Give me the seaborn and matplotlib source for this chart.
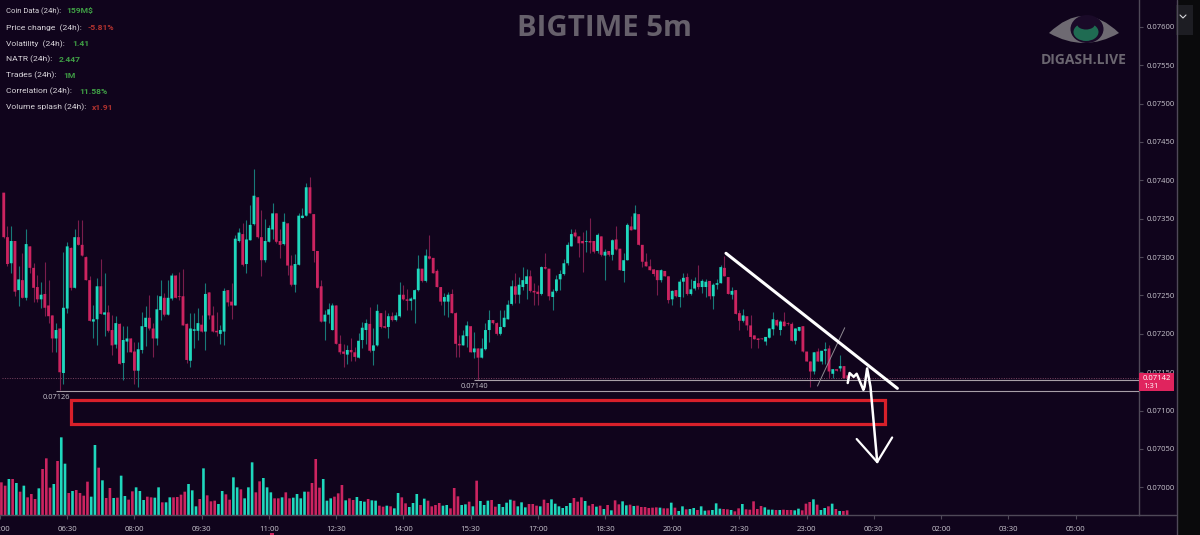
import numpy as np
import pandas as pd
import matplotlib
matplotlib.use("Agg")
import matplotlib.pyplot as plt
import seaborn as sns
from matplotlib.patches import Ellipse, PathPatch, Rectangle
from matplotlib.path import Path

# prices are in units of 0.00001
OPENS = [
    7384,7326,7292,7321,7257,7270,7247,7314,7286,7261,
    7245,7252,7237,7224,7194,7207,7149,7233,7312,7260,
    7326,7316,7300,7270,7216,7219,7262,7225,7228,7205,
    7186,7213,7162,7190,7194,7177,7152,7179,7209,7221,
    7207,7194,7231,7247,7225,7246,7276,7249,7249,7213,
    7165,7204,7204,7212,7203,7254,7224,7204,7200,7203,
    7257,7242,7237,7321,7330,7291,7322,7343,7378,7326,
    7296,7320,7336,7357,7321,7317,7344,7289,7264,7290,
    7351,7354,7391,7356,7308,7262,7216,7225,7205,7237,
    7187,7177,7173,7179,7176,7169,7192,7205,7213,7178,
    7185,7227,7210,7209,7223,7218,7223,7251,7245,7243,
    7245,7257,7285,7269,7301,7299,7282,7261,7242,7242,
    7252,7227,7187,7185,7197,7210,7176,7181,7169,7180,
    7205,7218,7214,7200,7209,7219,7239,7262,7251,7261,
    7265,7275,7256,7255,7252,7287,7285,7248,7256,7271,
    7278,7292,7314,7332,7327,7321,7320,7321,7321,7308,
    7327,7302,7308,7303,7323,7311,7282,7296,7340,7336,
    7356,7316,7294,7288,7284,7283,7270,7282,7275,7245,
    7257,7248,7268,7274,7252,7259,7266,7261,7261,7269,
    7249,7264,7266,7286,7274,7251,7257,7227,7217,7223,
    7211,7198,7194,7194,7190,7195,7206,7218,7205,7216,
    7214,7213,7191,7204,7210,7177,7164,7151,7177,7164,
    7178,7181,7148,7154,7155,7158,7146,
]
CLOSES = [
    7326,7291,7321,7255,7271,7247,7317,7286,7260,7245,
    7251,7234,7223,7194,7205,7150,7234,7314,7260,7326,
    7316,7302,7270,7217,7219,7262,7226,7228,7204,7185,
    7214,7161,7192,7194,7176,7152,7180,7210,7221,7207,
    7194,7232,7249,7225,7247,7276,7247,7248,7211,7166,
    7207,7206,7214,7203,7252,7224,7203,7202,7205,7256,
    7241,7237,7324,7332,7290,7323,7342,7380,7326,7296,
    7321,7338,7357,7320,7316,7346,7289,7264,7291,7354,
    7354,7391,7357,7308,7260,7216,7225,7232,7237,7187,
    7176,7174,7179,7176,7170,7191,7208,7214,7178,7185,
    7230,7209,7208,7223,7218,7224,7251,7245,7243,7246,
    7257,7285,7269,7302,7298,7279,7261,7242,7248,7251,
    7227,7187,7185,7198,7211,7176,7181,7169,7181,7205,
    7218,7214,7200,7209,7221,7238,7262,7251,7264,7270,
    7275,7256,7254,7252,7287,7285,7249,7255,7271,7278,
    7292,7316,7330,7327,7318,7318,7321,7319,7307,7329,
    7303,7307,7303,7322,7310,7283,7296,7342,7335,7357,
    7316,7294,7288,7283,7278,7270,7283,7275,7244,7256,
    7249,7268,7273,7252,7258,7269,7261,7269,7268,7249,
    7264,7266,7287,7275,7252,7256,7226,7217,7224,7211,
    7196,7193,7192,7193,7196,7207,7219,7211,7216,7210,
    7213,7191,7207,7209,7177,7164,7151,7176,7164,7178,
    7180,7151,7154,7152,7158,7142,7142,
]
HIGHS = [
    7384,7340,7340,7321,7288,7305,7336,7314,7292,7277,
    7268,7293,7270,7224,7214,7207,7307,7320,7313,7337,
    7348,7348,7301,7275,7238,7273,7297,7279,7238,7225,
    7223,7214,7210,7210,7194,7190,7190,7228,7236,7251,
    7214,7251,7270,7253,7270,7279,7277,7280,7284,7214,
    7227,7227,7234,7225,7266,7254,7236,7229,7212,7260,
    7257,7266,7329,7338,7344,7349,7368,7415,7378,7362,
    7350,7342,7370,7357,7336,7358,7344,7303,7304,7358,
    7364,7396,7405,7356,7308,7270,7231,7240,7240,7237,
    7198,7187,7185,7194,7183,7201,7216,7220,7235,7207,
    7239,7227,7231,7227,7229,7229,7268,7264,7259,7248,
    7259,7303,7285,7311,7329,7299,7285,7261,7253,7255,
    7259,7229,7198,7205,7217,7210,7203,7181,7194,7214,
    7231,7218,7216,7231,7231,7244,7270,7279,7274,7287,
    7285,7283,7266,7264,7288,7305,7285,7259,7277,7283,
    7298,7320,7337,7337,7327,7333,7335,7351,7321,7331,
    7327,7311,7308,7324,7340,7311,7305,7344,7353,7368,
    7356,7316,7305,7298,7284,7283,7285,7282,7275,7257,
    7257,7272,7279,7279,7272,7274,7290,7272,7272,7269,
    7266,7272,7290,7301,7274,7261,7257,7231,7233,7223,
    7224,7198,7194,7194,7196,7207,7228,7220,7218,7229,
    7216,7216,7207,7209,7210,7177,7164,7176,7181,7178,
    7190,7185,7154,7154,7172,7158,7147,
]
LOWS = [
    7325,7288,7279,7249,7236,7247,7244,7279,7242,7242,
    7234,7223,7214,7177,7176,7127,7135,7227,7257,7260,
    7316,7301,7270,7217,7194,7186,7226,7197,7203,7173,
    7181,7161,7140,7177,7176,7135,7131,7175,7184,7205,
    7170,7186,7218,7223,7225,7244,7247,7244,7211,7162,
    7157,7181,7192,7203,7179,7220,7203,7197,7187,7186,
    7236,7220,7237,7320,7288,7279,7322,7342,7325,7275,
    7294,7320,7323,7319,7299,7316,7277,7262,7255,7290,
    7351,7354,7357,7294,7260,7216,7192,7214,7205,7187,
    7174,7157,7161,7164,7164,7168,7181,7187,7176,7160,
    7184,7208,7208,7194,7217,7217,7222,7244,7231,7231,
    7214,7256,7268,7267,7297,7279,7261,7237,7224,7222,
    7227,7170,7170,7185,7183,7176,7168,7140,7169,7179,
    7190,7213,7198,7198,7209,7219,7237,7240,7240,7257,
    7246,7255,7237,7237,7251,7285,7244,7231,7255,7257,
    7277,7290,7314,7326,7300,7281,7307,7305,7305,7305,
    7301,7270,7302,7296,7309,7283,7268,7296,7335,7336,
    7316,7287,7288,7283,7276,7251,7268,7275,7240,7238,
    7248,7235,7248,7251,7251,7257,7259,7253,7248,7246,
    7233,7259,7266,7275,7252,7246,7226,7205,7216,7205,
    7181,7193,7181,7193,7185,7194,7198,7210,7198,7210,
    7212,7191,7187,7204,7177,7164,7131,7148,7164,7161,
    7161,7142,7142,7152,7151,7142,7140,
]
VOLUMES = [
    98,88,108,108,96,70,88,53,63,48,
    80,138,170,82,93,162,233,154,66,72,
    75,66,58,100,55,210,142,104,51,81,
    51,52,118,57,46,71,83,72,45,55,
    53,52,83,38,38,53,53,54,61,70,
    93,74,26,48,140,59,41,43,33,72,
    62,46,113,83,77,50,83,158,68,101,
    111,83,68,50,50,53,68,50,52,63,
    50,70,70,96,168,82,108,43,50,55,
    65,90,44,50,45,54,42,40,48,44,
    43,28,25,28,26,20,66,53,35,24,
    36,63,30,49,43,
    26,30,36,28,30,20,81,56,30,32,
    40,26,103,42,30,43,45,25,33,24,
    37,46,43,26,38,23,33,33,28,26,
    46,36,47,34,26,21,27,36,51,40,
    53,42,28,33,25,28,18,30,14,44,
    32,41,29,31,27,28,24,24,21,22,
    23,22,20,20,37,22,12,26,17,18,
    21,15,26,13,14,15,35,19,18,17,
    15,11,20,33,17,16,41,18,27,23,
    16,16,15,15,16,15,15,14,19,14,
    34,39,47,31,15,21,26,34,18,12,
    12,14,
]
TIME_LABELS = ["05:00", "06:30", "08:00", "09:30", "11:00", "12:30", "14:00", "15:30", "17:00",
               "18:30", "20:00", "21:30", "23:00", "00:30", "02:00", "03:30", "05:00"]
PRICE_TICKS = [7000, 7050, 7100, 7150, 7200, 7250, 7300, 7350, 7400, 7450, 7500, 7550, 7600]

INFO_LABELS = ["Coin Data (24h):", "Price change  (24h):", "Volatility  (24h):", "NATR (24h):",
               "Trades (24h):", "Correlation (24h):", "Volume splash (24h):"]
INFO_VALUES = ["159M$", "-5.81%", "1.41", "2.447", "1M", "11.58%", "x1.91"]

# drawn on top of the chart, (candle number, price)
TREND_X, TREND_Y = [193.4, 239.3], [7305, 7129]
THIN_X, THIN_Y = [217.9, 225.2], [7132, 7208]
SCRIBBLE_X = [226.0, 226.5, 227.6, 228.4, 230.2, 230.5, 231.2, 232.1, 233.9]
SCRIBBLE_Y = [7136, 7149, 7144, 7148, 7127, 7131, 7155, 7131, 7033]
HEAD_X, HEAD_Y = [228.4, 233.9, 237.9], [7063, 7033, 7065]
BOX_X, BOX_Y = [18.1, 236.1], [7082, 7114]
LAST_PRICE = 7142
LOW_LEVELS = [(15, 7126), (127, 7140)]

BG = "#10041c"
UP = "#1fd8bd"
DOWN = "#cc2460"
AXIS = "#4f4958"
TICK_TEXT = "#c9c5ce"

sns.set_theme(style="dark", rc={"axes.grid": False})
plt.rcParams["font.family"] = ["Open Sans", "DejaVu Sans"]

W, H = 1200, 535
fig = plt.figure(figsize=(W / 100, H / 100), dpi=100, facecolor=BG)
pos = [0, (H - 515) / H, 1139 / W, 515 / H]

opens = np.array(OPENS) / 1e5
closes = np.array(CLOSES) / 1e5
highs = np.array(HIGHS) / 1e5
lows = np.array(LOWS) / 1e5
idx = np.arange(len(opens))
up = closes >= opens
xlim = (-0.374, 304.0)
ylim = (0.06964, 0.07635)

# volume panel
vol_ax = fig.add_axes(pos, zorder=1)
vol = pd.DataFrame({"i": idx, "v": VOLUMES[:len(idx)], "dir": np.where(up, "up", "down")})
sns.barplot(data=vol, x="i", y="v", hue="dir", palette={"up": UP, "down": DOWN}, native_scale=True,
            dodge=False, width=0.7, saturation=1, legend=False, linewidth=0, ax=vol_ax)
vol_ax.set_xlim(*xlim)
vol_ax.set_ylim(0, 1545)
vol_ax.set_axis_off()
for p in vol_ax.patches:
    p.set_snap(False)

# candles
ax = fig.add_axes(pos, zorder=2)
ax.patch.set_alpha(0)
colors = np.where(up, UP, DOWN)
wick_colors = np.where(up, "#187a78", "#7a1d4c")
ax.vlines(idx, lows, highs, colors=wick_colors, linewidth=0.8, zorder=2)
bodies = ax.bar(idx, np.maximum(np.abs(closes - opens), 0.00001), bottom=np.minimum(opens, closes),
                width=0.76, color=colors, linewidth=0, zorder=3)
for p in bodies:
    p.set_snap(False)

ax.set_xlim(*xlim)
ax.set_ylim(*ylim)
ax.set_xticks(np.arange(len(TIME_LABELS)) * 18 - 1)
ax.set_xticklabels(TIME_LABELS)
ax.set_yticks(np.array(PRICE_TICKS) / 1e5)
ax.set_yticklabels([f"{p / 1e5:.5f}" for p in PRICE_TICKS])
ax.yaxis.tick_right()
ax.tick_params(axis="x", colors=AXIS, labelcolor=TICK_TEXT, labelsize=5.6, length=3, width=0.8, pad=5, bottom=True)
ax.tick_params(axis="y", colors=AXIS, labelcolor=TICK_TEXT, labelsize=5.5, length=3, width=0.8, pad=2.5, right=True)
for side in ["top", "left"]:
    ax.spines[side].set_visible(False)
for side in ["right", "bottom"]:
    ax.spines[side].set_color(AXIS)
    ax.spines[side].set_linewidth(1)

# levels
ax.hlines(LAST_PRICE / 1e5, xlim[0], xlim[1], colors="#7a4460", linewidth=0.7, linestyles=(0, (1, 1.5)), zorder=1)
for i0, level in LOW_LEVELS:
    ax.hlines(level / 1e5, i0 - 1, xlim[1], colors="#a89fa8", linewidth=0.8, zorder=4)
    ax.text(i0 - 1, (level - 9) / 1e5, f"{level / 1e5:.5f}", color=TICK_TEXT, fontsize=5.4, ha="center", va="center")

# hand drawn marks
ax.add_patch(Rectangle((BOX_X[0], BOX_Y[0] / 1e5), BOX_X[1] - BOX_X[0], (BOX_Y[1] - BOX_Y[0]) / 1e5,
                       fill=False, edgecolor="#d8202a", linewidth=2.3, zorder=5))
ax.plot(THIN_X, np.array(THIN_Y) / 1e5, color="#8f8a92", linewidth=0.7, zorder=6)
ax.plot(TREND_X, np.array(TREND_Y) / 1e5, color="white", linewidth=2.2, zorder=7)
ax.plot(SCRIBBLE_X, np.array(SCRIBBLE_Y) / 1e5, color="white", linewidth=1.8, zorder=7)
ax.plot(HEAD_X, np.array(HEAD_Y) / 1e5, color="white", linewidth=1.6, zorder=7)

# overlay in pixels for the chart furniture
over = fig.add_axes([0, 0, 1, 1], zorder=3)
over.set_xlim(0, W)
over.set_ylim(H, 0)
over.set_axis_off()
over.patch.set_alpha(0)

over.add_patch(Rectangle((1177, 0), 23, H, color="#0a0a0c", linewidth=0))
over.add_patch(Rectangle((1176, 5), 17, 30, color="#1d1d23", linewidth=0))
over.plot([1180, 1183, 1186], [15, 18, 15], color="#d8d8dc", linewidth=0.8)
over.plot([1176.5, 1176.5], [0, H], color=AXIS, linewidth=1)
over.plot([1139, 1176], [515, 515], color=AXIS, linewidth=1)
over.add_patch(Rectangle((270, 533), 4, 2, color=DOWN, linewidth=0))

# price tag
over.add_patch(Rectangle((1139, 373), 35, 18, color="#e0245e", linewidth=0))
over.text(1143, 378.5, f"{LAST_PRICE / 1e5:.5f}", color="white", fontsize=5.5, va="center")
over.text(1143, 386.5, "1:31", color="white", fontsize=5.5, va="center")

# title and logo
over.text(604.5, 29, "BIGTIME 5m", color="#66606b", fontsize=21.2, fontweight="bold", ha="center", va="center")
over.text(1083.5, 60, "DIGASH.LIVE", color="#6b6670", fontsize=10, fontweight="bold", ha="center", va="center")
lens = Path([(1049, 33), (1084, -1), (1119, 33), (1084, 53), (1049, 33)],
            [Path.MOVETO, Path.CURVE3, Path.CURVE3, Path.CURVE3, Path.CURVE3])
over.add_patch(PathPatch(lens, facecolor="#6e6a72", edgecolor="none"))
over.add_patch(Ellipse((1087, 29), 33, 28, color="#1a0a28", linewidth=0))
over.add_patch(Ellipse((1086, 32), 25, 18, color="#1f6b52", linewidth=0))
over.add_patch(Ellipse((1086, 24), 18, 11, color="#1a0a28", linewidth=0))

# info block
INFO_Y = [11, 28, 44, 59, 75, 91, 107]
VALUE_X = [66, 88, 72, 59, 63, 79, 92]
VALUE_COL = ["#3f9e45", "#b0322f", "#3f9e45", "#3f9e45", "#3f9e45", "#3f9e45", "#b0322f"]
LABEL_SIZE = [5.5, 6.1, 6.1, 6.1, 6.1, 6.1, 6.1]
for label, value, y, vx, col, size in zip(INFO_LABELS, INFO_VALUES, INFO_Y, VALUE_X, VALUE_COL, LABEL_SIZE):
    over.text(6, y, label, color="#d8d4da", fontsize=size, family="Roboto", va="center")
    over.text(vx, y, value, color=col, fontsize=6.1, family="Roboto", fontweight="bold", va="center")

fig.savefig("out.png", dpi=100, facecolor=BG)
